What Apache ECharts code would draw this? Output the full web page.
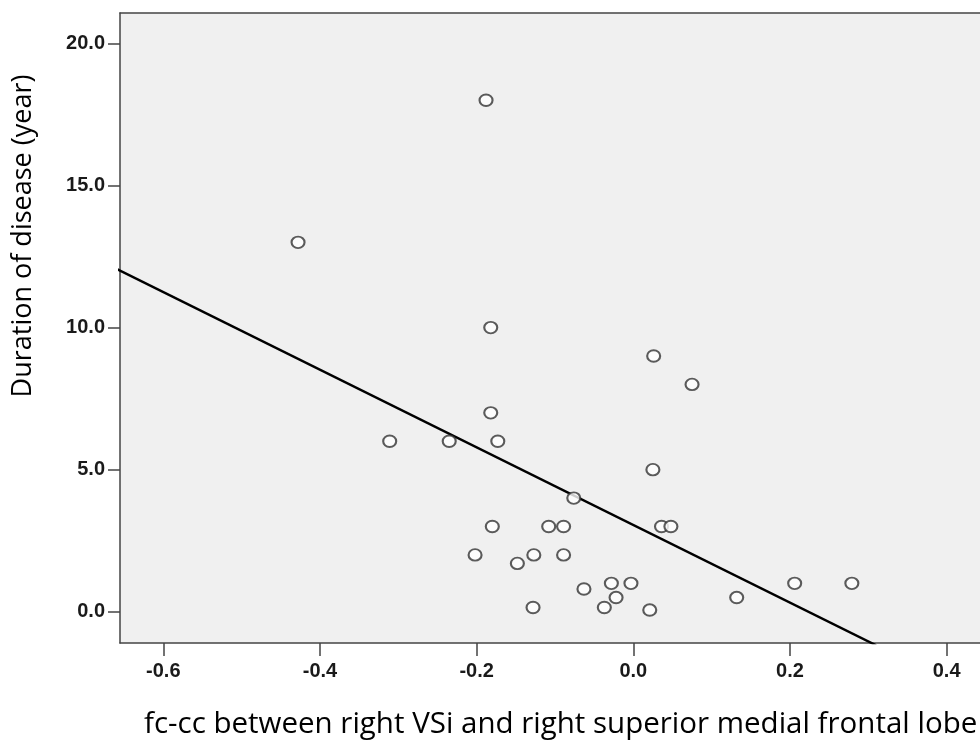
<!DOCTYPE html>
<html>
<head>
<meta charset="utf-8">
<script src="https://cdn.jsdelivr.net/npm/echarts@6/dist/echarts.min.js"></script>
<style>
  html, body { margin: 0; padding: 0; background: #fff; }
  #chart { width: 980px; height: 744px; }
</style>
</head>
<body>
<div id="chart"></div>
<script>
// fc-cc values (x) and duration of disease in years (y)
const fcValues = [
  -0.188, -0.428, -0.182, 0.026, 0.075, -0.182, -0.311, -0.235, -0.173, 0.025,
  -0.076, -0.180, -0.108, -0.089, 0.036, 0.048, -0.202, -0.127, -0.089, -0.148,
  -0.063, -0.028, -0.003, -0.022, -0.128, -0.037, 0.021, 0.132, 0.206, 0.279
];
const durationValues = [
  18, 13, 10, 9, 8, 7, 6, 6, 6, 5,
  4, 3, 3, 3, 3, 3, 2, 2, 2, 1.7,
  0.8, 1, 1, 0.5, 0.15, 0.15, 0.06, 0.5, 1, 1
];
// fit line (two ends)
const fitX = [-0.66, 0.31];
const fitY = [12.07, -1.18];

const xTicks = [-0.6, -0.4, -0.2, 0.0, 0.2, 0.4];
const yTicks = [0, 5, 10, 15, 20];

const xTitle = 'fc-cc between right VSi and right superior medial frontal lobe';
const yTitle = 'Duration of disease (year)';

const chart = echarts.init(document.getElementById('chart'));

const points = fcValues.map((x, i) => [x, durationValues[i]]);
const fitLine = fitX.map((x, i) => [x, fitY[i]]);

const frame = { color: '#444', width: 1.5 };
const tickLabel = {
  fontFamily: 'Liberation Sans, Arial, sans-serif',
  fontWeight: 'bold',
  fontSize: 20,
  color: '#1a1a1a'
};

chart.setOption({
  animation: false,
  backgroundColor: '#fff',
  grid: {
    left: 120, top: 13, width: 860, height: 630,
    show: true,
    backgroundColor: '#f0f0f0',
    borderWidth: 0
  },
  xAxis: [
    {
      type: 'value',
      min: -0.6553,
      max: 0.4426,
      axisLine: { show: true, onZero: false, lineStyle: frame },
      axisTick: { show: true, length: 13, customValues: xTicks, lineStyle: frame },
      axisLabel: Object.assign({
        margin: 18,
        customValues: xTicks,
        formatter: v => v.toFixed(1)
      }, tickLabel),
      splitLine: { show: false }
    },
    {
      // top frame line only
      type: 'value',
      position: 'top',
      min: -0.6553,
      max: 0.4426,
      axisLine: { show: true, onZero: false, lineStyle: frame },
      axisTick: { show: false },
      axisLabel: { show: false },
      splitLine: { show: false }
    }
  ],
  yAxis: {
    type: 'value',
    min: -1.10,
    max: 21.07,
    axisLine: { show: true, onZero: false, lineStyle: frame },
    axisTick: { show: true, length: 12, customValues: yTicks, lineStyle: frame },
    axisLabel: Object.assign({
      margin: 15,
      customValues: yTicks,
      formatter: v => v.toFixed(1)
    }, tickLabel),
    splitLine: { show: false }
  },
  graphic: [
    {
      type: 'text',
      left: 144, top: 710,
      style: {
        text: xTitle,
        font: '29.5px "Open Sans", sans-serif',
        fill: '#000'
      }
    },
    {
      type: 'text',
      x: 10, y: 236,
      rotation: Math.PI / 2,
      style: {
        text: yTitle,
        font: '27px "Open Sans", sans-serif',
        fill: '#000',
        align: 'center',
        verticalAlign: 'top'
      }
    }
  ],
  series: [
    {
      type: 'line',
      data: fitLine,
      symbol: 'none',
      lineStyle: { color: '#000', width: 2.5 },
      z: 2
    },
    {
      type: 'scatter',
      data: points,
      symbol: 'circle',
      symbolSize: [13, 11.5],
      itemStyle: { color: '#fff', borderColor: '#333', borderWidth: 2 },
      z: 3
    }
  ]
});
</script>
</body>
</html>
